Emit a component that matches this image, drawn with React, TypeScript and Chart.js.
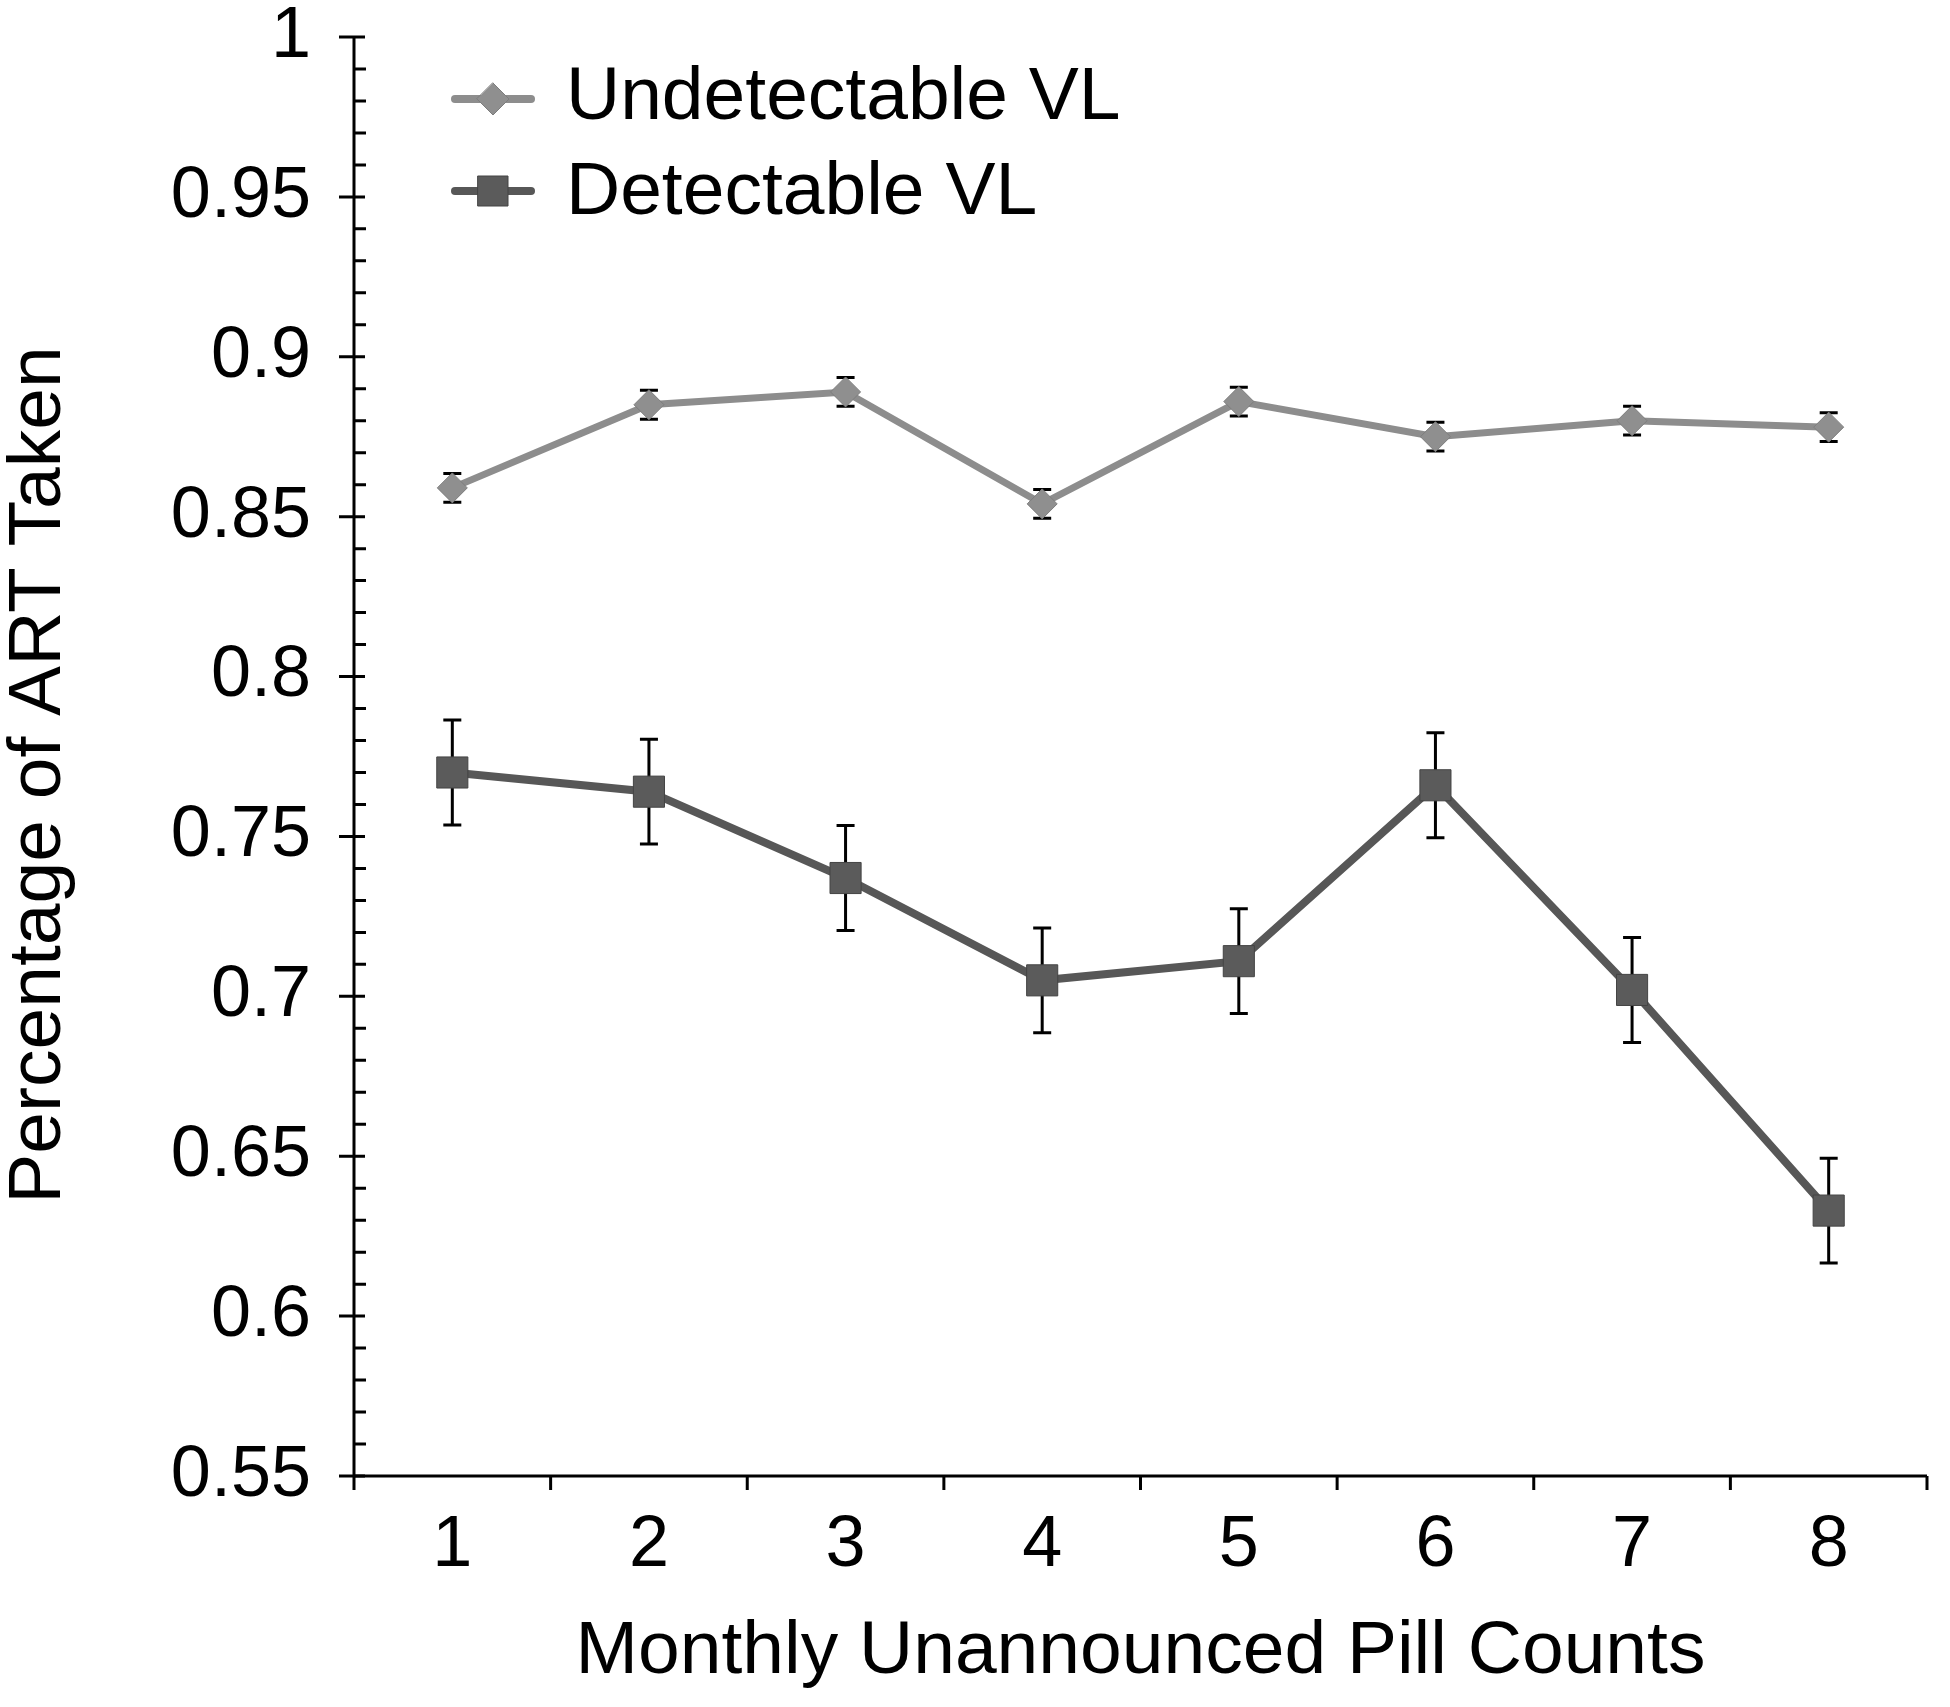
import React, { useEffect, useRef } from 'react';
import { Chart, registerables } from 'chart.js';

Chart.register(...registerables);

// ---- data ----
const categories = ['1', '2', '3', '4', '5', '6', '7', '8'];
const seriesNames = ['Undetectable VL', 'Detectable VL'];
const undetectableValues = [0.859, 0.885, 0.889, 0.854, 0.886, 0.875, 0.88, 0.878];
const undetectableErrors = [0.0045, 0.0045, 0.0045, 0.0045, 0.0045, 0.0045, 0.0045, 0.0045];
const detectableValues = [0.77, 0.764, 0.737, 0.705, 0.711, 0.766, 0.702, 0.633];
const detectableErrors = [0.0164, 0.0164, 0.0164, 0.0164, 0.0164, 0.0164, 0.0164, 0.0164];
const yMin = 0.55;
const yMax = 1;
const yMajorStep = 0.05;
const yMinorStep = 0.01;
const xTitle = 'Monthly Unannounced Pill Counts';
const yTitle = 'Percentage of ART Taken';

const FONT = '"Liberation Sans", Arial, Helvetica, sans-serif';
const lightGray = '#8d8d8d';
const darkGray = '#575757';

const customPlugin = {
  id: 'customDecor',
  beforeDatasetsDraw(chart: any) {
    const ctx = chart.ctx;
    const xs = chart.scales.x;
    const ys = chart.scales.y;
    ctx.save();
    ctx.strokeStyle = '#000';
    ctx.lineWidth = 3;
    chart.data.datasets.forEach((ds: any) => {
      ds.data.forEach((v: number, i: number) => {
        const e = ds.errors[i];
        const px = xs.getPixelForValue(i);
        const top = ys.getPixelForValue(v + e);
        const bot = ys.getPixelForValue(v - e);
        ctx.beginPath();
        ctx.moveTo(px, top);
        ctx.lineTo(px, bot);
        ctx.moveTo(px - 9, top);
        ctx.lineTo(px + 9, top);
        ctx.moveTo(px - 9, bot);
        ctx.lineTo(px + 9, bot);
        ctx.stroke();
      });
    });
    ctx.restore();
  },
  afterDraw(chart: any) {
    const ctx = chart.ctx;
    const xs = chart.scales.x;
    const ys = chart.scales.y;
    const area = chart.chartArea;
    ctx.save();
    ctx.strokeStyle = '#000';
    ctx.lineWidth = 3;
    ctx.lineCap = 'butt';
    // axes lines
    ctx.beginPath();
    ctx.moveTo(area.left, ys.getPixelForValue(yMax));
    ctx.lineTo(area.left, area.bottom);
    ctx.moveTo(area.left, area.bottom);
    ctx.lineTo(area.right, area.bottom);
    ctx.stroke();
    // y ticks
    const n = Math.round((yMax - yMin) / yMinorStep);
    const perMajor = Math.round(yMajorStep / yMinorStep);
    ctx.beginPath();
    for (let k = 0; k <= n; k++) {
      const v = yMin + k * yMinorStep;
      const py = ys.getPixelForValue(v);
      if (k % perMajor === 0) {
        ctx.moveTo(area.left - 15, py);
        ctx.lineTo(area.left + 11, py);
      } else {
        ctx.moveTo(area.left, py);
        ctx.lineTo(area.left + 12, py);
      }
    }
    // x ticks at category boundaries
    for (let i = 0; i <= categories.length; i++) {
      const px = xs.getPixelForValue(i - 0.5);
      ctx.moveTo(px, area.bottom);
      ctx.lineTo(px, area.bottom + 14);
    }
    ctx.stroke();

    // titles
    ctx.fillStyle = '#000';
    ctx.font = `75px ${FONT}`;
    ctx.textAlign = 'center';
    ctx.textBaseline = 'middle';
    ctx.fillText(xTitle, (area.left + area.right) / 2, 1652);
    ctx.save();
    ctx.translate(39, 775);
    ctx.rotate(-Math.PI / 2);
    ctx.fillText(yTitle, 0, 0);
    ctx.restore();

    // legend
    const rows = [97, 189];
    const textRows = [98, 193];
    chart.data.datasets.forEach((ds: any, di: number) => {
      const ry = rows[di] + 2;
      ctx.strokeStyle = ds.borderColor;
      ctx.lineWidth = 8;
      ctx.lineCap = 'round';
      ctx.beginPath();
      ctx.moveTo(455, ry);
      ctx.lineTo(531, ry);
      ctx.stroke();
      ctx.fillStyle = ds.pointBackgroundColor;
      ctx.strokeStyle = ds.pointBorderColor;
      ctx.lineWidth = 1;
      ctx.beginPath();
      if (ds.pointStyle === 'rectRot') {
        ctx.moveTo(493, ry - 16);
        ctx.lineTo(493 + 16, ry);
        ctx.lineTo(493, ry + 16);
        ctx.lineTo(493 - 16, ry);
        ctx.closePath();
      } else {
        ctx.rect(493 - 15, ry - 15, 30, 30);
      }
      ctx.fill();
      ctx.stroke();
      ctx.fillStyle = '#000';
      ctx.font = `75px ${FONT}`;
      ctx.textAlign = 'left';
      ctx.textBaseline = 'middle';
      ctx.fillText(ds.label, 566, textRows[di]);
    });
    ctx.restore();
  },
};

export default function App() {
  const canvasRef = useRef<HTMLCanvasElement | null>(null);

  useEffect(() => {
    document.body.style.margin = '0';
    const canvas = canvasRef.current;
    if (!canvas) return;
    const chart = new Chart(canvas, {
      type: 'line',
      data: {
        labels: categories,
        datasets: [
          {
            label: seriesNames[0],
            data: undetectableValues,
            errors: undetectableErrors,
            borderColor: lightGray,
            borderWidth: 7,
            pointStyle: 'rectRot',
            pointRadius: 15,
            pointBackgroundColor: '#8f8f8f',
            pointBorderColor: '#7d7d7d',
            pointBorderWidth: 1,
            tension: 0,
          } as any,
          {
            label: seriesNames[1],
            data: detectableValues,
            errors: detectableErrors,
            borderColor: darkGray,
            borderWidth: 8,
            pointStyle: 'rect',
            pointRadius: 22,
            pointBackgroundColor: '#5b5b5b',
            pointBorderColor: '#444444',
            pointBorderWidth: 1,
            tension: 0,
          } as any,
        ],
      },
      options: {
        responsive: false,
        animation: false,
        devicePixelRatio: 1,
        layout: { padding: { top: 37, right: 15, left: 0, bottom: 0 } },
        plugins: {
          legend: { display: false },
          tooltip: { enabled: false },
          title: { display: false },
        },
        scales: {
          x: {
            type: 'category',
            offset: true,
            grid: { display: false, drawTicks: false },
            border: { display: false },
            ticks: {
              color: '#000',
              padding: 34,
              font: { family: FONT, size: 72, lineHeight: 1 },
              maxRotation: 0,
              autoSkip: false,
            },
            afterFit: (s: any) => {
              s.height = 231;
              s.paddingLeft = 0;
              s.paddingRight = 0;
            },
          },
          y: {
            type: 'linear',
            min: yMin,
            max: yMax,
            grid: { display: false, drawTicks: false },
            border: { display: false },
            ticks: {
              stepSize: yMajorStep,
              color: '#000',
              padding: 43,
              font: { family: FONT, size: 72, lineHeight: 1 },
              callback: (v: any) => String(Number(Number(v).toFixed(2))),
            },
            afterFit: (s: any) => {
              s.width = 354;
              s.paddingTop = 0;
              s.paddingBottom = 0;
            },
          },
        },
      } as any,
      plugins: [customPlugin],
    });
    return () => chart.destroy();
  }, []);

  return (
    <div style={{ width: 1950, height: 1707 }}>
      <canvas ref={canvasRef} width={1950} height={1707} style={{ display: 'block' }} />
    </div>
  );
}
